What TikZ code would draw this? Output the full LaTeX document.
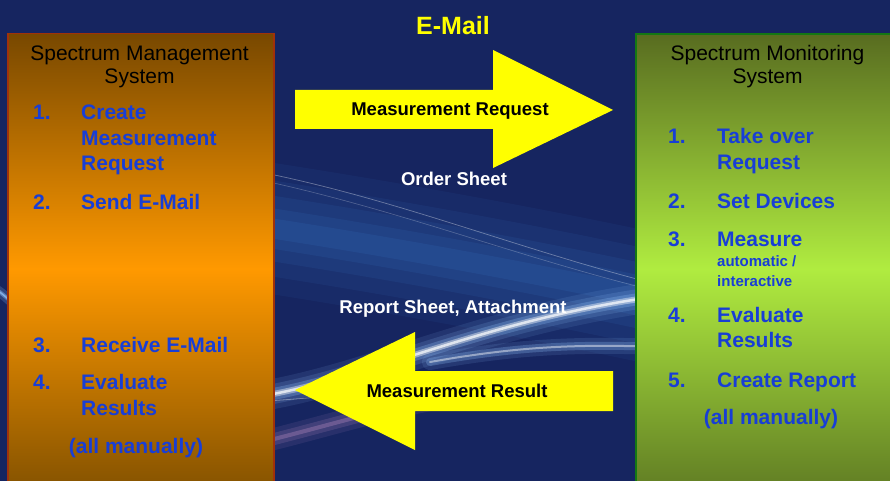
\documentclass[tikz,border=0pt]{standalone}
\usepackage{fontspec}
\setmainfont{Liberation Sans}
\definecolor{bgnavy}{RGB}{22,37,96}
\definecolor{bgglow}{RGB}{55,120,200}
\definecolor{streak}{RGB}{150,200,255}
\definecolor{itemblue}{RGB}{24,62,214}
\definecolor{orangemid}{RGB}{255,153,0}
\definecolor{orangetop}{RGB}{120,72,0}
\definecolor{orangebot}{RGB}{125,78,0}
\definecolor{greenmid}{RGB}{176,236,64}
\definecolor{greentop}{RGB}{88,108,32}
\definecolor{greenbot}{RGB}{92,118,34}
\definecolor{lborder}{RGB}{160,50,10}
\definecolor{rborder}{RGB}{20,120,20}
\definecolor{arrowyellow}{RGB}{255,255,0}
\tikzset{
  sysbox/.style={anchor=north west, inner sep=0pt, minimum width=#1, minimum height=470pt},
  titletext/.style={font=\fontsize{21}{24}\selectfont, text=black, anchor=base, inner sep=0pt},
  itemtext/.style={font=\bfseries\fontsize{21}{24}\selectfont, text=itemblue, anchor=base west, inner sep=0pt},
  smalltext/.style={font=\bfseries\fontsize{15}{17}\selectfont, text=itemblue, anchor=base west, inner sep=0pt},
  notetext/.style={font=\bfseries\fontsize{21}{24}\selectfont, text=itemblue, anchor=base, inner sep=0pt},
  arrowtext/.style={font=\bfseries\fontsize{18.5}{21}\selectfont, text=black, anchor=base, inner sep=0pt},
  whitetext/.style={font=\bfseries\fontsize{18.5}{21}\selectfont, text=white, anchor=base, inner sep=0pt},
  bigarrow/.style={fill=arrowyellow, draw=none},
}
\begin{document}
\begin{tikzpicture}[x=1pt,y=-1pt]
\useasboundingbox (0,0) rectangle (890,481);
\clip (0,0) rectangle (890,481);
% background
\fill[bgnavy] (0,0) rectangle (890,481);
% diffuse glow
\foreach \w/\o in {130/0.08,95/0.10,65/0.12,40/0.14,20/0.16}{
  \draw[bgglow, line width=\w pt, opacity=\o, line cap=round] (250,225) .. controls (380,245) and (520,270) .. (660,300);
}
% thin light lines
\draw[white, opacity=0.35, line width=0.7pt] (260,172) .. controls (400,200) and (520,250) .. (660,285);
\draw[white, opacity=0.25, line width=0.6pt] (260,180) .. controls (400,210) and (520,258) .. (660,292);
% bright streak
\foreach \w/\o/\c in {30/0.10/streak,20/0.15/streak,12/0.25/streak,6/0.4/white,2.5/0.7/white}{
  \draw[\c, line width=\w pt, opacity=\o, line cap=round] (250,398) .. controls (370,380) and (480,320) .. (660,296);
}
% second streak
\foreach \w/\o/\c in {16/0.12/streak,8/0.25/streak,2/0.45/white}{
  \draw[\c, line width=\w pt, opacity=\o, line cap=round] (430,362) .. controls (520,346) and (580,344) .. (660,347);
}
% purple lower streaks
\foreach \w/\o in {22/0.10,12/0.16,4/0.3}{
  \draw[violet!40!white, line width=\w pt, opacity=\o, line cap=round] (250,445) .. controls (320,428) and (370,412) .. (430,400);
}
\draw[white, opacity=0.35, line width=0.8pt] (250,402) .. controls (320,398) and (380,392) .. (430,380);
% left-edge streaks
\foreach \w/\o in {10/0.2,4/0.4,1.5/0.7}{
  \draw[streak, line width=\w pt, opacity=\o] (-20,280) .. controls (0,290) and (10,300) .. (30,320);
}

% system boxes
\node[sysbox=266pt, draw=lborder, line width=1.5pt, top color=orangetop, bottom color=orangebot, middle color=orangemid] (sms) at (7,33) {};
\node[sysbox=270pt, draw=rborder, line width=2pt, top color=greentop, bottom color=greenbot, middle color=greenmid] (smon) at (635,33) {};

% arrows
\path[bigarrow] (295,90) -- (493,90) -- (493,50) -- (613,110) -- (493,168) -- (493,129) -- (295,129) -- cycle;
\path[bigarrow] (613,371) -- (415,371) -- (415,332) -- (295,390) -- (415,450) -- (415,411) -- (613,411) -- cycle;

% centre texts
\node[font=\bfseries\fontsize{25}{28}\selectfont, text=arrowyellow, anchor=base, inner sep=0pt] (email) at (453,35) {E-Mail};
\node[arrowtext] (mreq) at (450,116) {Measurement Request};
\node[whitetext] (order) at (454,185) {Order Sheet};
\node[whitetext] (report) at (453,313) {Report Sheet, Attachment};
\node[arrowtext] (mres) at (457,397) {Measurement Result};

% left box texts
\node[titletext] (lt1) at (139.5,61) {Spectrum Management};
\node[titletext] (lt2) at (139.5,84) {System};
\node[itemtext] (ln1) at (33,120) {1.};
\node[itemtext] (li1a) at (81,120) {Create};
\node[itemtext] (li1b) at (81,146) {Measurement};
\node[itemtext] (li1c) at (81,171) {Request};
\node[itemtext] (ln2) at (33,209) {2.};
\node[itemtext] (li2) at (81,209) {Send E-Mail};
\node[itemtext] (ln3) at (33,352) {3.};
\node[itemtext] (li3) at (81,352) {Receive E-Mail};
\node[itemtext] (ln4) at (33,389) {4.};
\node[itemtext] (li4a) at (81,389) {Evaluate};
\node[itemtext] (li4b) at (81,415) {Results};
\node[notetext] (lnote) at (136,453) {(all manually)};

% right box texts
\node[titletext] (rt1) at (767.5,61) {Spectrum Monitoring};
\node[titletext] (rt2) at (767.5,84) {System};
\node[itemtext] (rn1) at (668,143) {1.};
\node[itemtext] (ri1a) at (717,143) {Take over};
\node[itemtext] (ri1b) at (717,169) {Request};
\node[itemtext] (rn2) at (668,208) {2.};
\node[itemtext] (ri2) at (717,208) {Set Devices};
\node[itemtext] (rn3) at (668,246) {3.};
\node[itemtext] (ri3) at (717,246) {Measure};
\node[smalltext] (ri3a) at (717,266) {automatic /};
\node[smalltext] (ri3b) at (717,286) {interactive};
\node[itemtext] (rn4) at (668,322) {4.};
\node[itemtext] (ri4a) at (717,322) {Evaluate};
\node[itemtext] (ri4b) at (717,347) {Results};
\node[itemtext] (rn5) at (668,387) {5.};
\node[itemtext] (ri5) at (717,387) {Create Report};
\node[notetext] (rnote) at (771,424) {(all manually)};
\end{tikzpicture}
\end{document}
